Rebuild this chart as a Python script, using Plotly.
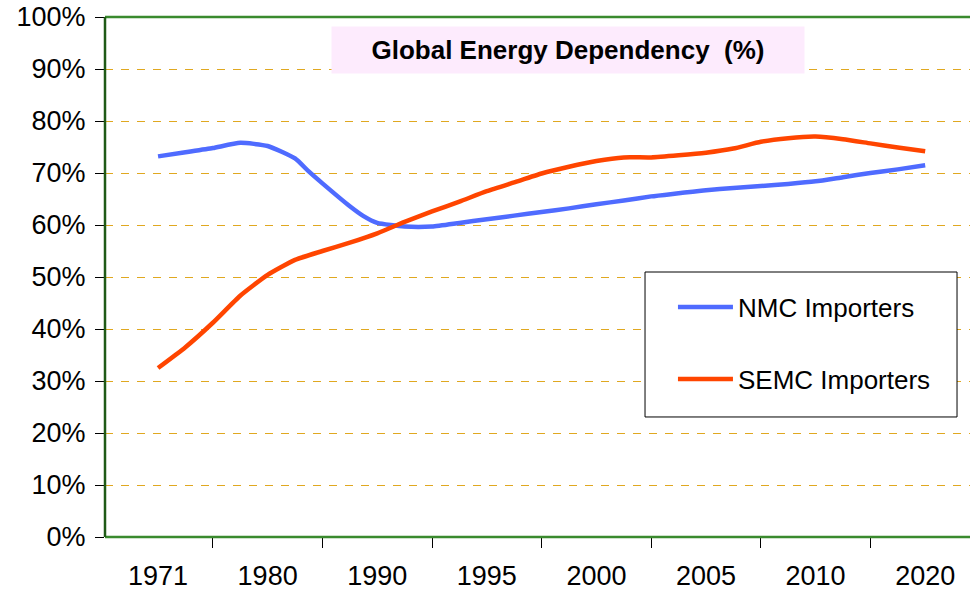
import plotly.graph_objects as go

# category labels (axis) and positions of the samples along the category axis
categories = ["1971", "1980", "1990", "1995", "2000", "2005", "2010", "2020"]

pos_nmc = [0, 0.25, 0.5, 0.75, 1.0, 1.25, 1.375, 1.5, 1.75, 1.875, 2.0, 2.25, 2.5,
           2.75, 3.0, 3.25, 3.5, 3.75, 4.0, 4.25, 4.5, 4.75, 5.0, 5.25, 5.5, 5.75,
           6.0, 6.25, 6.5, 6.75, 7.0]
nmc = [73.2, 74.0, 74.8, 75.8, 75.2, 72.8, 70.3, 68.0, 63.6, 61.7, 60.4, 59.7, 59.7,
       60.4, 61.1, 61.8, 62.5, 63.2, 64.0, 64.7, 65.5, 66.1, 66.7, 67.1, 67.5, 67.9,
       68.4, 69.2, 70.0, 70.7, 71.5]

pos_semc = [0, 0.25, 0.5, 0.75, 1.0, 1.25, 1.5, 1.75, 2.0, 2.25, 2.5, 2.75, 3.0,
            3.25, 3.5, 3.75, 4.0, 4.25, 4.5, 4.75, 5.0, 5.25, 5.5, 5.75, 6.0, 6.25,
            6.5, 6.75, 7.0]
semc = [32.5, 36.5, 41.2, 46.4, 50.4, 53.3, 55.0, 56.6, 58.4, 60.6, 62.6, 64.5, 66.5,
        68.2, 69.9, 71.2, 72.3, 73.0, 73.0, 73.4, 73.9, 74.7, 76.0, 76.7, 77.0, 76.5,
        75.7, 74.9, 74.2]

y_ticks = list(range(0, 101, 10))

FONT = "Arial, Liberation Sans, sans-serif"
GREEN = "#3A8A2E"
DARK_GREEN = "#1F5A17"

fig = go.Figure()
fig.add_trace(go.Scatter(x=pos_nmc, y=nmc, mode="lines", name="NMC Importers",
                         line=dict(color="#4F6BFF", width=4.5, shape="spline", smoothing=0.5),
                         legendgroup="a"))
fig.add_trace(go.Scatter(x=pos_semc, y=semc, mode="lines", name="SEMC Importers",
                         line=dict(color="#FF4500", width=4.5, shape="spline", smoothing=0.5),
                         legendgroup="b"))

fig.update_layout(
    width=970, height=599,
    margin=dict(l=105, r=0, t=17, b=62),
    paper_bgcolor="white", plot_bgcolor="white",
    font=dict(family=FONT, color="black"),
    showlegend=True,
    legend=dict(
        x=0.6566, y=0.4871, xanchor="left", yanchor="top",
        bgcolor="rgba(0,0,0,0)", borderwidth=0,
        font=dict(size=26, family=FONT, color="black"),
        traceorder="grouped", tracegroupgap=35,
        itemwidth=55,
    ),
    shapes=[
        # legend frame
        dict(type="rect", xref="paper", yref="paper", x0=0.6243, x1=0.985,
             y0=0.2308, y1=0.5096, line=dict(color="black", width=1),
             fillcolor="white", layer="above"),
        # top, bottom and left borders of the plot area
        dict(type="line", xref="paper", yref="paper", x0=0, x1=1, y0=1, y1=1,
             line=dict(color=GREEN, width=2.5), layer="above"),
        dict(type="line", xref="paper", yref="paper", x0=0, x1=1, y0=0, y1=0,
             line=dict(color=GREEN, width=2.5), layer="above"),
        dict(type="line", xref="paper", yref="paper", x0=0, x1=0, y0=0, y1=1,
             line=dict(color=DARK_GREEN, width=2.5), layer="above"),
    ],
)

fig.update_xaxes(
    range=[-0.484, 7.409], automargin=False,
    tickmode="array", tickvals=list(range(len(categories))), ticktext=categories,
    ticks="", showgrid=False, zeroline=False, mirror=False, showline=False,
    tickfont=dict(size=27, family=FONT, color="black"),
    ticklabelstandoff=20,
    minor=dict(tickmode="linear", tick0=-0.5, dtick=1, ticks="outside",
               ticklen=10, tickwidth=1, tickcolor="black", showgrid=False),
)

fig.update_yaxes(
    range=[0, 100], automargin=False,
    tickmode="array", tickvals=y_ticks, ticktext=[f"{v}%" for v in y_ticks],
    ticks="outside", ticklen=9, tickwidth=1, tickcolor="black",
    tickfont=dict(size=27, family=FONT, color="black"),
    ticklabelstandoff=4, ticklabeloverflow="allow",
    showgrid=True, gridcolor="#E0A820", gridwidth=1, griddash="8px,8px",
    zeroline=False, mirror=False, showline=False,
)

fig.add_annotation(
    xref="paper", yref="paper", x=0.5347, y=0.9365,
    xanchor="center", yanchor="middle",
    text="<b>Global Energy Dependency  (%)</b>",
    showarrow=False, bgcolor="#FDEBFD",
    width=470, height=44,
    font=dict(size=26, family=FONT, color="black"),
)

fig.write_html(
    "out.html",
    config={"displayModeBar": False},
    post_script="document.body.style.margin='0';document.body.style.overflow='hidden';",
)
